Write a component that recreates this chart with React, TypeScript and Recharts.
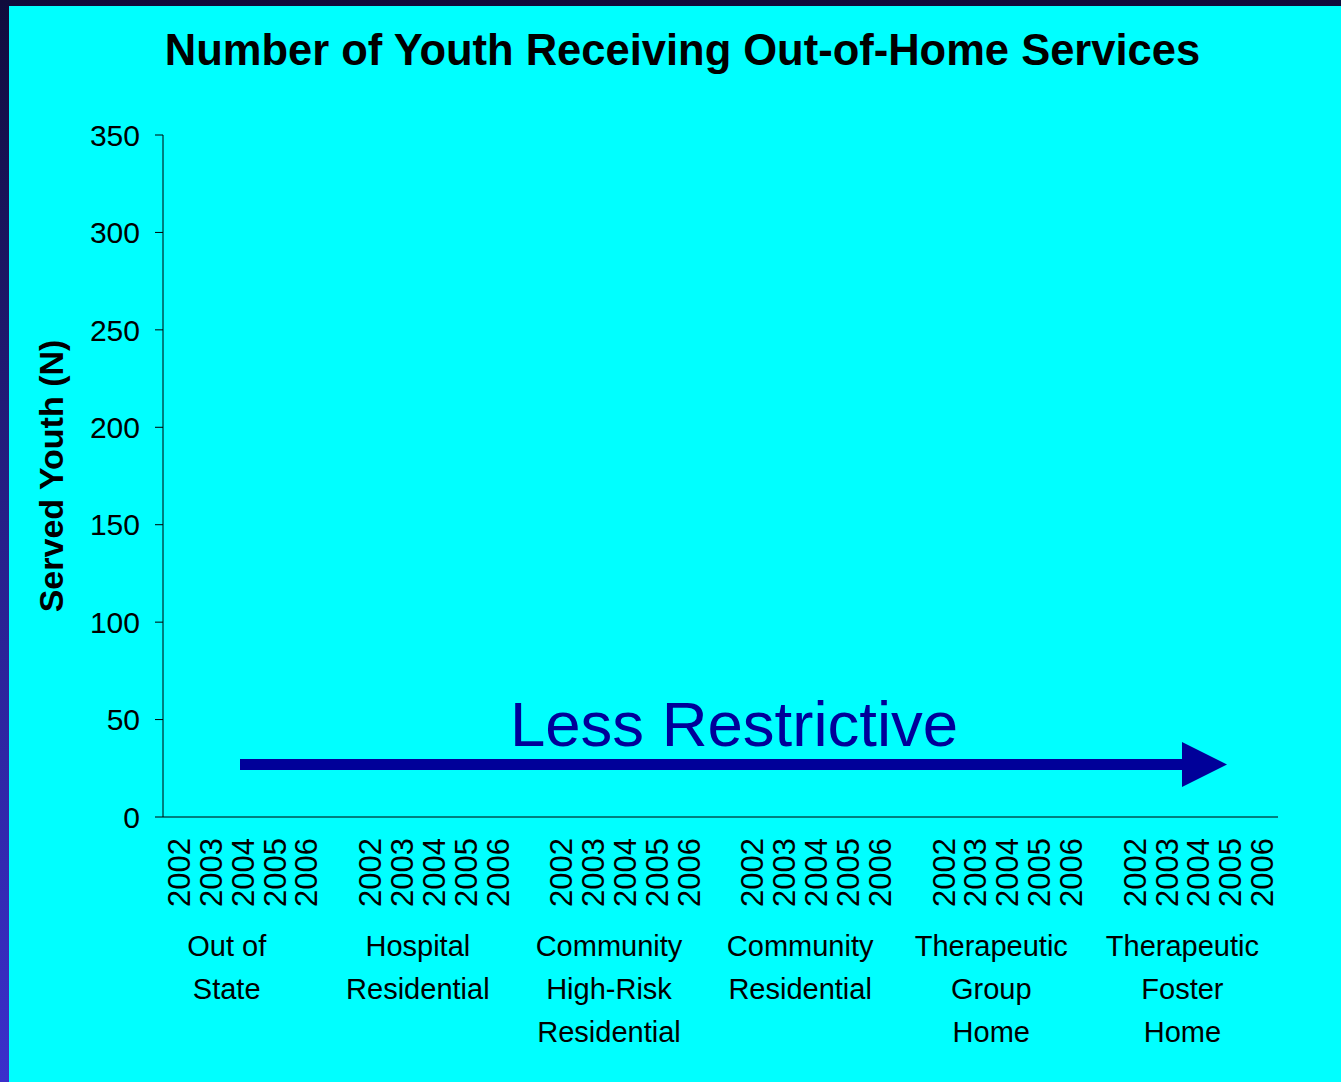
import React from 'react';
import { BarChart, Bar, XAxis, YAxis } from 'recharts';

const groups = [
  ['Out of', 'State'],
  ['Hospital', 'Residential'],
  ['Community', 'High-Risk', 'Residential'],
  ['Community', 'Residential'],
  ['Therapeutic', 'Group', 'Home'],
  ['Therapeutic', 'Foster', 'Home'],
];
const years = ['2002', '2003', '2004', '2005', '2006'];

// served youth per year, one list per setting (none visible in the picture)
const outOfState = [0, 0, 0, 0, 0];
const hospitalResidential = [0, 0, 0, 0, 0];
const communityHighRisk = [0, 0, 0, 0, 0];
const communityResidential = [0, 0, 0, 0, 0];
const therapeuticGroupHome = [0, 0, 0, 0, 0];
const therapeuticFosterHome = [0, 0, 0, 0, 0];

const yTicks = [0, 50, 100, 150, 200, 250, 300, 350];

const seriesByGroup = [
  outOfState,
  hospitalResidential,
  communityHighRisk,
  communityResidential,
  therapeuticGroupHome,
  therapeuticFosterHome,
];

// years of every group, with one blank slot between groups
const data: { key: string; year: string; group: number; pos: number; value: number | null }[] = [];
seriesByGroup.forEach((values, g) => {
  if (g > 0) data.push({ key: `gap${g}`, year: '', group: -1, pos: -1, value: null });
  years.forEach((y, i) => data.push({ key: `${g}-${y}`, year: y, group: g, pos: i, value: values[i] }));
});

const W = 1341;
const H = 1082;
const MARGIN = { top: 135, right: 63, bottom: 0, left: 0 };
const Y_AXIS_W = 163;
const PLOT_W = W - MARGIN.right - Y_AXIS_W;
const HALF_BAND = PLOT_W / data.length / 2;
const INK = '#000099';
const FONT = '"Liberation Sans", Arial, sans-serif';

function YearTick({ x, payload }: any) {
  const row = data[payload.index];
  if (!row) return null;
  const lines = row.pos === 2 ? groups[row.group] : null;
  const tx = x + 11;
  return (
    <g>
      {row.year && (
        <text
          x={tx}
          y={838}
          transform={`rotate(-90, ${tx}, 838)`}
          textAnchor="end"
          fontSize={31}
          fontFamily={FONT}
          fill="#000"
        >
          {row.year}
        </text>
      )}
      {lines &&
        lines.map((t, i) => (
          <text
            key={i}
            x={x - HALF_BAND}
            y={956 + i * 43}
            textAnchor="middle"
            fontSize={29}
            fontFamily={FONT}
            fill="#000"
          >
            {t}
          </text>
        ))}
    </g>
  );
}

function YLabel({ viewBox }: any) {
  const cy = viewBox.y + viewBox.height / 2;
  return (
    <text
      x={63}
      y={cy}
      transform={`rotate(-90, 63, ${cy})`}
      textAnchor="middle"
      fontSize={34}
      fontWeight="bold"
      fontFamily={FONT}
      fill="#000"
    >
      Served Youth (N)
    </text>
  );
}

export default function App() {
  return (
    <div
      style={{
        position: 'absolute',
        left: 0,
        top: 0,
        width: W,
        height: H,
        background: 'linear-gradient(to bottom, #100c3c, #27208a 50%, #3b2fcb)',
        overflow: 'hidden',
      }}
    >
      <div style={{ position: 'absolute', left: 9, top: 6, right: 0, bottom: 0, background: '#00ffff' }} />
      <div
        style={{
          position: 'absolute',
          left: 0,
          top: 25,
          width: W + 24,
          textAlign: 'center',
          fontFamily: FONT,
          fontWeight: 'bold',
          fontSize: 43.5,
          lineHeight: '50px',
          color: '#000',
        }}
      >
        Number of Youth Receiving Out-of-Home Services
      </div>
      <div style={{ position: 'absolute', left: 0, top: 0 }}>
        <BarChart width={W} height={H} data={data} margin={MARGIN} barCategoryGap="20%">
          <XAxis
            dataKey="key"
            height={H - 817 - MARGIN.bottom}
            interval={0}
            tickLine={false}
            axisLine={{ stroke: '#000', strokeWidth: 1 }}
            tick={<YearTick />}
          />
          <YAxis
            width={Y_AXIS_W}
            domain={[0, 350]}
            ticks={yTicks}
            interval={0}
            tickSize={8}
            tickMargin={15}
            axisLine={{ stroke: '#000', strokeWidth: 1 }}
            tickLine={{ stroke: '#000', strokeWidth: 1 }}
            tick={{ fontSize: 30, fontFamily: FONT, fill: '#000' }}
            label={{ content: <YLabel /> }}
          />
          <Bar dataKey="value" fill={INK} isAnimationActive={false} />
        </BarChart>
      </div>
      <svg
        width={W}
        height={H}
        style={{ position: 'absolute', left: 0, top: 0, pointerEvents: 'none' }}
      >
        <text x={734} y={746} textAnchor="middle" fontSize={63.5} fontFamily={FONT} fill={INK}>
          Less Restrictive
        </text>
        <rect x={240} y={759} width={944} height={11} fill={INK} />
        <polygon points="1182,742 1227,764.5 1182,787" fill={INK} />
      </svg>
    </div>
  );
}
